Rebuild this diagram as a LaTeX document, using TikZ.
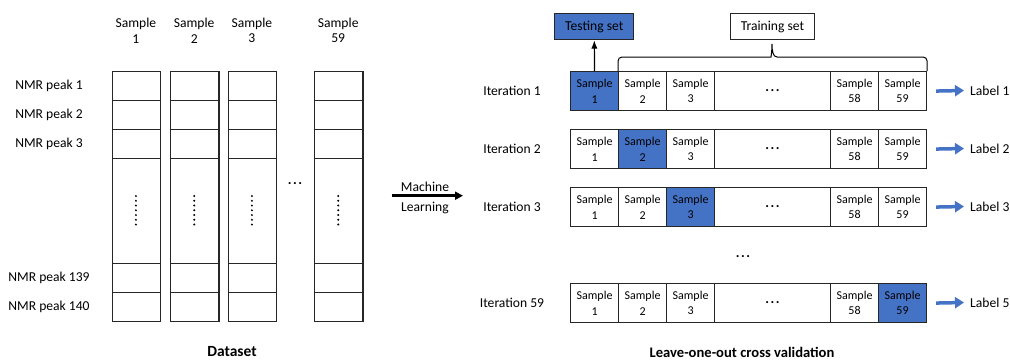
\documentclass[tikz,border=0pt]{standalone}
\usepackage{fontspec}
\setmainfont{Carlito}
\usetikzlibrary{positioning,arrows.meta,calc}
\definecolor{officeblue}{HTML}{4472C4}

\begin{document}
\begin{tikzpicture}[x=1pt, y=-1pt, >=Latex,
    dcell/.style={draw=black!85, line width=1.1pt, minimum width=48.4pt, inner sep=0pt, anchor=north west},
    scell/.style={draw=black!85, line width=1.1pt, minimum height=39pt, inner sep=0pt, anchor=north west,
        align=center, font=\fontsize{12}{15.6}\selectfont},
    txt/.style={font=\fontsize{13.6}{15.6}\selectfont, inner sep=0pt},
    hdr/.style={txt, align=center},
    ttl/.style={font=\fontsize{14.6}{16}\selectfont\bfseries, inner sep=0pt},
    setbox/.style={draw=black!85, line width=1pt, minimum height=26pt, inner sep=0pt, anchor=north west, txt},
    bluearrow/.style={-{Triangle[length=9pt,width=11pt]}, line width=3.5pt, officeblue},
    dots/.style={font=\fontsize{14}{14}\selectfont\bfseries, inner sep=0pt}]

    \useasboundingbox (0,0) rectangle (1010,360);
    \clip (0,0) rectangle (1010,360);

    % dataset
    \foreach \c/\x in {1/111.7, 2/170, 3/227.7, 59/314} {
        \node[hdr] (h\c) at (\x+24.2, 30.5) {Sample\\\c};
        \foreach \k/\y/\h in {1/71/29, 2/100/29, 3/129/29, mid/158/105, 139/263/29, 140/292/29}
            \node[dcell, minimum height=\h*1pt] (d\c-\k) at (\x,\y) {};
        \foreach \j in {0,...,6}
            \fill (\x+24.2, 196+\j*4.75) circle (1.1pt);
    }
    \node[dots] (dcols) at (295,184) {.\kern1.5pt.\kern1.5pt.};

    \foreach \k/\y in {1/85.5, 2/114.5, 3/143.5, 139/277.5, 140/306.5}
        \node[txt] (p\k) at (49,\y) {NMR peak \k};

    \node[ttl, font=\fontsize{15.5}{16}\selectfont\bfseries] (dataset) at (232,352) {Dataset};

    % machine learning
    \coordinate (ml-a) at (391.7,195.7);
    \coordinate (ml-b) at (463,195.7);
    \draw[-{Triangle[length=8pt,width=8pt]}, line width=2.5pt] (ml-a) -- (ml-b);
    \node[txt] (mach) at (425,186.7) {Machine};
    \node[txt] (learn) at (425,207.7) {Learning};

    % leave-one-out rows
    \foreach \r/\y/\fa/\fb/\fc/\fz in {1/71/officeblue/white/white/white,
            2/129/white/officeblue/white/white,
            3/187/white/white/officeblue/white,
            59/283/white/white/white/officeblue} {
        \node[txt] (it\r) at (512,\y+19.5) {Iteration \r};
        \node[scell, minimum width=48pt, fill=\fa] (r\r-1) at (570,\y) {Sample\\1};
        \node[scell, minimum width=48pt, fill=\fb] (r\r-2) at (618,\y) {Sample\\2};
        \node[scell, minimum width=48pt, fill=\fc] (r\r-3) at (666,\y) {Sample\\3};
        \node[scell, minimum width=116pt] (r\r-d) at (714,\y) {};
        \node[dots] (r\r-dt) at (r\r-d.center) {.\kern1.5pt.\kern1.5pt.};
        \node[scell, minimum width=48pt] (r\r-58) at (830,\y) {Sample\\58};
        \node[scell, minimum width=48pt, fill=\fz] (r\r-59) at (878,\y) {Sample\\59};
        \node[txt, anchor=west] (lab\r) at (970,\y+19.5) {Label \r};
        \draw[bluearrow] ($(r\r-59.east)+(9,0)$) -- ($(lab\r.west)+(-6,0)$);
    }
    \node[dots] (drows) at (743,257) {.\kern1.5pt.\kern1.5pt.};

    % testing / training sets
    \node[setbox, fill=officeblue, minimum width=79pt] (test) at (554.3,13.3) {Testing set};
    \node[setbox, fill=white, minimum width=84pt] (train) at (730,13.3) {Training set};
    \draw[->, line width=1.2pt] (r1-1.north) -- (test.south);

    \coordinate (br-l) at (r1-2.north west);
    \coordinate (br-r) at (r1-59.north east);
    \coordinate (br-m) at (772,44);
    \draw[line width=1pt] (br-l) [rounded corners=4pt] |- (767,57) [sharp corners]
        .. controls (771,57) and (772,51) .. (br-m)
        .. controls (772,51) and (773,57) .. (777,57) [rounded corners=4pt] -| (br-r);

    \node[ttl] (loocv) at (742,352) {Leave-one-out cross validation};

\end{tikzpicture}
\end{document}
